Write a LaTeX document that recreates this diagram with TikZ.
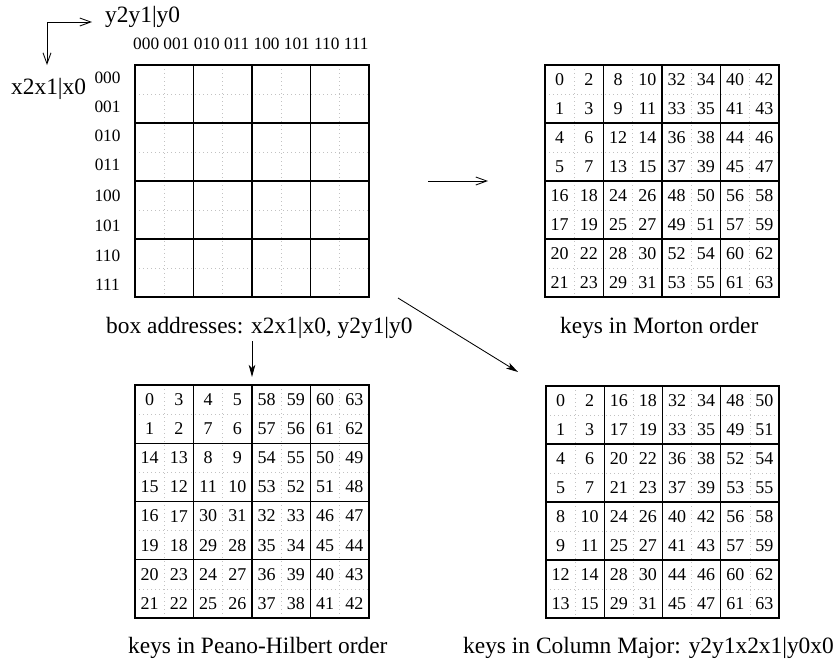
\documentclass[tikz,border=0pt]{standalone}
\usepackage{fontspec}
\setmainfont{Liberation Serif}
\usetikzlibrary{arrows.meta}
\newcommand\capfont{\fontsize{23.4}{28}\selectfont}
\newcommand\labfont{\fontsize{17.3}{20}\selectfont}
\newcommand\numfont{\fontsize{18}{20}\selectfont}
\tikzset{
  gridframe/.style={draw=black, line width=1.3pt, rectangle, inner sep=0pt},
  cellline/.style={draw=black, line width=1.3pt},
  subline/.style={draw=black!24, line width=0.7pt, dash pattern=on 0.7pt off 3.3pt},
  num/.style={inner sep=0pt, font=\numfont},
  lab/.style={inner sep=0pt, font=\labfont},
  captext/.style={inner sep=0pt, font=\capfont},
  barbarrow/.style={line width=0.85pt, -{Straight Barb[length=11pt,width=8pt]}},
  twobarb/.style={line width=0.85pt, {Straight Barb[length=11pt,width=8pt]}-{Straight Barb[length=11pt,width=8pt]}},
  stealtharrow/.style={line width=0.85pt, -{Stealth[length=12pt,width=6.5pt,inset=3pt]}}
}
% #1 name, #2 left, #3 top, #4 right, #5 bottom
\newcommand\drawkeygrid[5]{%
  \foreach \k in {1,3,5,7} {
    \draw[subline] ({#2+\k*(#4-#2)/8},#3) -- ({#2+\k*(#4-#2)/8},#5);
    \draw[subline] (#2,{#3+\k*(#5-#3)/8}) -- (#4,{#3+\k*(#5-#3)/8});
  }
  \foreach \k in {2,4,6} {
    \draw[cellline] ({#2+\k*(#4-#2)/8},#3) -- ({#2+\k*(#4-#2)/8},#5);
    \draw[cellline] (#2,{#3+\k*(#5-#3)/8}) -- (#4,{#3+\k*(#5-#3)/8});
  }
  \node[gridframe, minimum width={(#4-#2)*1pt}, minimum height={(#5-#3)*1pt}] (#1) at ({(#2+#4)/2},{(#3+#5)/2}) {};
}
% #1 name, #2 left, #3 top, #4 right, #5 bottom, #6 rows
\newcommand\fillkeys[6]{%
  \foreach \row [count=\r from 0] in {#6} {
    \foreach \v [count=\c from 0] in \row {
      \node[num] (#1-\r-\c) at ({#2+(\c+0.5)*(#4-#2)/8},{#3+(\r+0.5)*(#5-#3)/8}) {\v};
    }
  }
}
\begin{document}
\begin{tikzpicture}[x=1pt,y=-1pt]
\useasboundingbox (0,0) rectangle (835,662);

% ---------- box addresses grid ----------
\drawkeygrid{A}{135}{65}{369}{297}
\node[lab, anchor=base west] (collab) at (133,49) {000 001 010 011 100 101 110 111};
\foreach \t/\yy [count=\i] in {000/78,001/107,010/136,011/165,100/196,101/226,110/256,111/285}
  \node[lab] (rowlab\i) at (107.5,\yy) {\t};
\node[captext, anchor=base west] (ylab) at (105,22) {y2y1|y0};
\node[captext, anchor=base west] (xlab) at (11,94) {x2x1|x0};
\coordinate (corner) at (47,22);
\coordinate (htip) at (92,22);
\coordinate (vtip) at (47,65);
\draw[twobarb] (vtip) -- (corner) -- (htip);
\node[captext, anchor=base west] (capA) at (106,333) {box addresses: x2x1|x0, y2y1|y0};

% ---------- Morton ----------
\drawkeygrid{B}{545}{65}{779}{297}
\fillkeys{B}{545}{65}{779}{297}{
 {0,2,8,10,32,34,40,42},
 {1,3,9,11,33,35,41,43},
 {4,6,12,14,36,38,44,46},
 {5,7,13,15,37,39,45,47},
 {16,18,24,26,48,50,56,58},
 {17,19,25,27,49,51,57,59},
 {20,22,28,30,52,54,60,62},
 {21,23,29,31,53,55,61,63}}
\node[captext, anchor=base west] (capB) at (560,333) {keys in Morton order};

% ---------- Peano-Hilbert ----------
\drawkeygrid{C}{135}{385}{369}{618}
\fillkeys{C}{135}{385}{369}{618}{
 {0,3,4,5,58,59,60,63},
 {1,2,7,6,57,56,61,62},
 {14,13,8,9,54,55,50,49},
 {15,12,11,10,53,52,51,48},
 {16,17,30,31,32,33,46,47},
 {19,18,29,28,35,34,45,44},
 {20,23,24,27,36,39,40,43},
 {21,22,25,26,37,38,41,42}}
\node[captext, anchor=base west] (capC) at (128,653) {keys in Peano-Hilbert order};

% ---------- Column major ----------
\drawkeygrid{D}{546}{386}{779}{618}
\fillkeys{D}{546}{386}{779}{618}{
 {0,2,16,18,32,34,48,50},
 {1,3,17,19,33,35,49,51},
 {4,6,20,22,36,38,52,54},
 {5,7,21,23,37,39,53,55},
 {8,10,24,26,40,42,56,58},
 {9,11,25,27,41,43,57,59},
 {12,14,28,30,44,46,60,62},
 {13,15,29,31,45,47,61,63}}
\node[captext, anchor=base west] (capD) at (463,653) {keys in Column Major: y2y1x2x1|y0x0};

% ---------- connectors ----------
\coordinate (mA) at (428,181);
\coordinate (mB) at (488,181);
\draw[barbarrow] (mA) -- (mB);
\coordinate (dA) at (398,298);
\coordinate (dD) at (518,372);
\draw[stealtharrow] (dA) -- (dD);
\coordinate (pA) at (252,341);
\coordinate (pC) at (252,377);
\draw[stealtharrow] (pA) -- (pC);
\end{tikzpicture}
\end{document}
